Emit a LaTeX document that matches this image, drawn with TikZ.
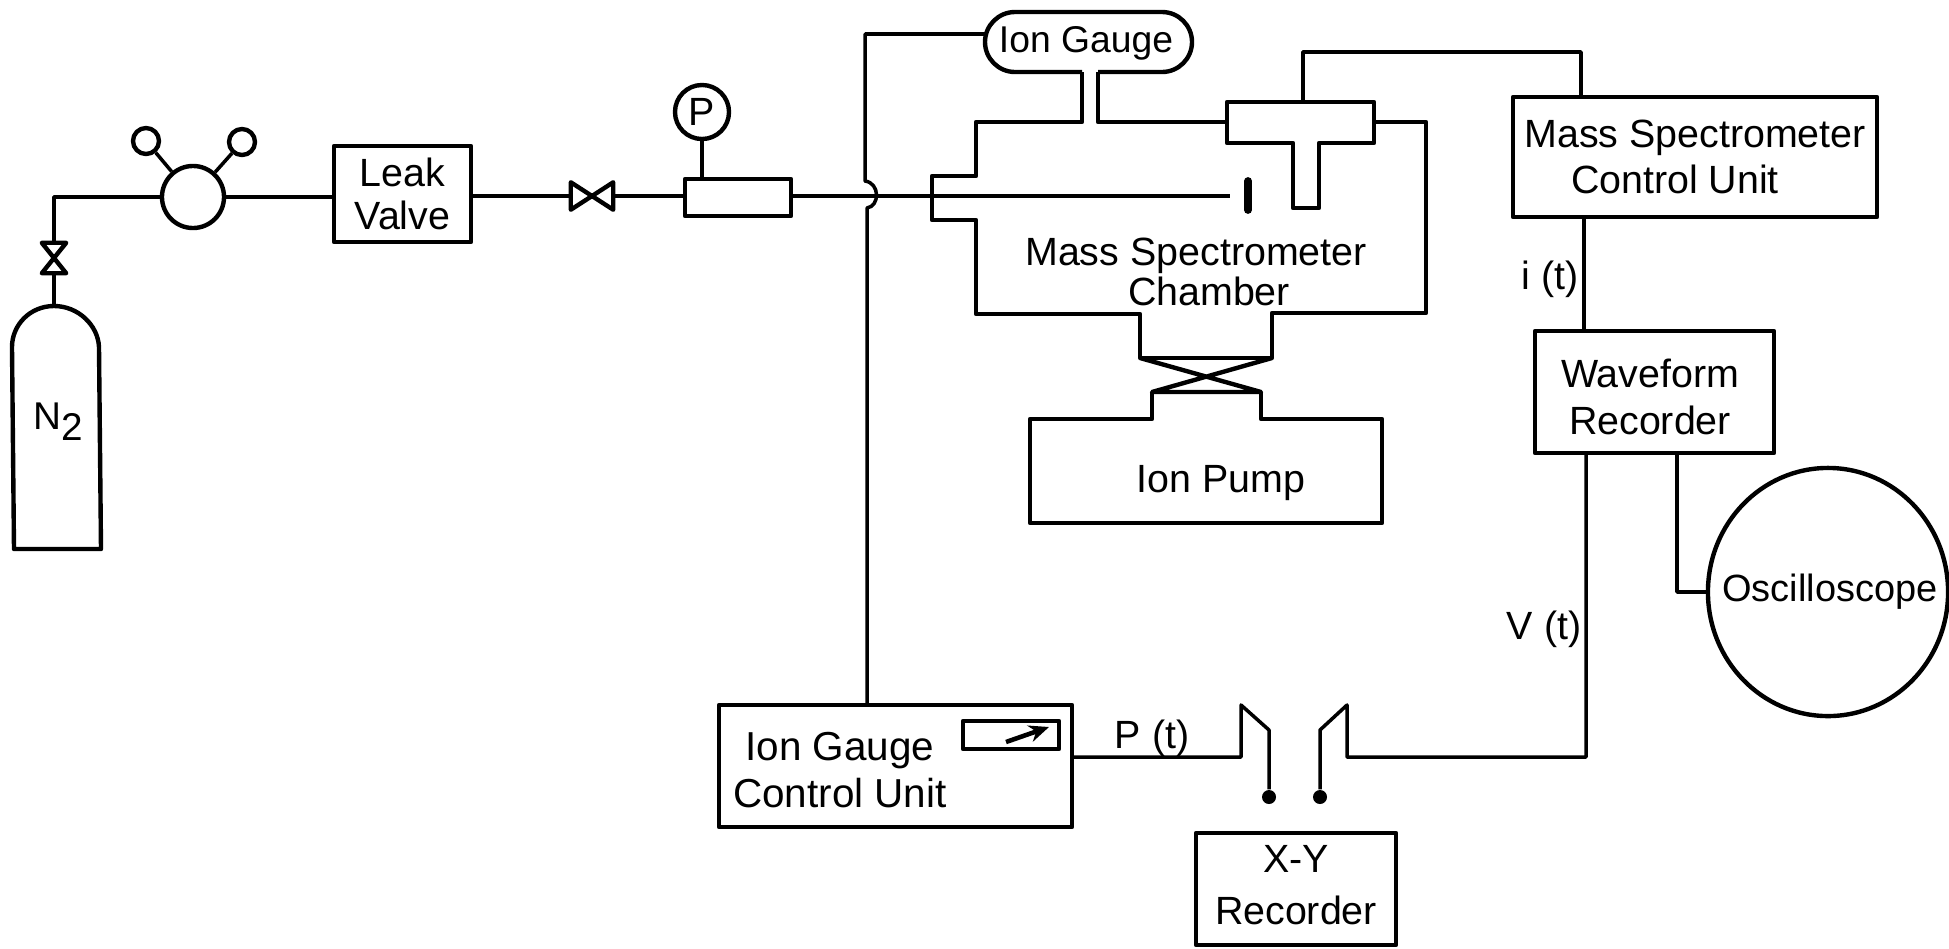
\documentclass[tikz,border=0pt]{standalone}
\usepackage{fontspec}
\setmainfont{Liberation Sans}
\usetikzlibrary{arrows.meta,shapes.geometric}
\tikzset{
  wire/.style={draw=black, line width=1pt, line join=round},
  wall/.style={draw=black, line width=1.25pt, line join=round},
  lab/.style={font=\fontsize{11.2}{13}\selectfont, align=center, inner sep=0pt},
  box/.style={wall, rectangle, inner sep=0pt, lab},
  ring/.style={wall, circle, inner sep=0pt, lab},
  spot/.style={circle, fill=black, inner sep=0pt, minimum size=0.14cm}
}
\begin{document}
\begin{tikzpicture}[x=0.01cm, y=-0.01cm]
  \useasboundingbox (0,0) rectangle (1949,948);

  % Cylinder
  \draw[wall] (14,549) -- (12,347) .. controls (12,325) and (30,306) .. (54,306)
    .. controls (78,306) and (98,325) .. (99,347) -- (101,549) -- cycle;
  \coordinate (cyltop) at (54,306);
  \node[lab, font=\fontsize{11}{13}\selectfont] (cyl) at (58,422) {N\raisebox{-0.55ex}{2}};

  % Gas line
  \node[inner sep=0pt, minimum width=0.23cm, minimum height=0.29cm] (vv) at (54,258) {};
  \node[ring, minimum size=0.62cm] (reg) at (193,197) {};
  \node[ring, minimum size=0.26cm] (bulba) at (146,141) {};
  \node[ring, minimum size=0.26cm] (bulbb) at (242,142) {};
  \node[box, minimum width=1.37cm, minimum height=0.96cm] (leak) at (402.5,194) {Leak\\[-0.6pt]Valve};
  \node[inner sep=0pt, minimum width=0.41cm, minimum height=0.26cm] (vh) at (592,196) {};
  \node[box, minimum width=1.06cm, minimum height=0.37cm] (pipe) at (738,197.5) {};
  \node[ring, minimum size=0.54cm] (pgauge) at (702,112) {P};
  \coordinate (inlet) at (1230,196);

  \draw[wall] (vv.north west) -- (vv.north east) -- (vv.south west) -- (vv.south east) -- cycle;
  \draw[wall] (vh.north west) -- (vh.south west) -- (vh.north east) -- (vh.south east) -- cycle;
  \draw[wire] (cyltop) -- (vv.south);
  \draw[wire] (vv.north) |- (reg.west);
  \draw[wire] (reg) -- (bulba);
  \draw[wire] (reg) -- (bulbb);
  \draw[wire] (reg.east) -- (leak.west |- reg.east);
  \draw[wire] (leak.east |- vh.west) -- (vh.west);
  \draw[wire] (vh.east) -- (pipe.west |- vh.east);
  \draw[wire] (pgauge) -- (pgauge |- pipe.north);
  \draw[wire] (pipe.east |- inlet) -- (inlet);
  \draw[line width=2.2pt, line cap=round] (1248,181) -- (1248,210);

  % Ion gauge
  \draw[wall, rounded corners=0.3cm] (1082,72) -- (985,72) -- (985,12) -- (1192,12) -- (1192,72) -- (1098,72);
  \node[lab, font=\fontsize{10.6}{13}\selectfont, minimum width=2.07cm, minimum height=0.6cm] (gauge) at (1086,43) {Ion Gauge};

  % Chamber and pump
  \draw[wall] (1082,72) -- (1082,122) -- (976,122) -- (976,176) -- (932,176) -- (932,220)
    -- (976,220) -- (976,314) -- (1140,314) -- (1140,358) -- (1272,358) -- (1272,313)
    -- (1426,313) -- (1426,122) -- (1374,122);
  \draw[wall] (1098,72) -- (1098,122) -- (1227,122);
  \draw[wall] (1293,143) -- (1227,143) -- (1227,102) -- (1374,102) -- (1374,143) -- (1319,143)
    -- (1319,208) -- (1293,208) -- cycle;
  \draw[wall] (1140,358) -- (1261,392) -- (1152,392) -- (1272,358);
  \draw[wall] (1152,392) -- (1152,419) -- (1030,419) -- (1030,523) -- (1382,523) -- (1382,419)
    -- (1261,419) -- (1261,392);
  \node[lab] (chamber) at (1196,272) {Mass Spectrometer\\[-1.6pt]\hspace*{0.26cm}Chamber};
  \node[lab] (pump) at (1221,483) {Ion Pump};

  % Control units
  \node[box, minimum width=3.64cm, minimum height=1.2cm] (msu) at (1695,157) {Mass Spectrometer\\[0.3pt]Control Unit\hspace*{0.4cm}};
  \node[box, minimum width=2.39cm, minimum height=1.22cm] (wave) at (1654.5,392) {};
  \node[lab] (wavetext) at (1650,397) {Waveform\\[0.3pt]Recorder};
  \node[wall, ellipse, inner sep=0pt, minimum width=2.4cm, minimum height=2.48cm] (scope) at (1828,592) {};
  \node[lab, font=\fontsize{10.8}{13}\selectfont] (scopetext) at (1830,592) {Oscilloscope};
  \node[box, minimum width=3.53cm, minimum height=1.22cm] (igu) at (895.5,766) {};
  \node[lab, font=\fontsize{11.5}{13}\selectfont] (igutext) at (840,770) {Ion Gauge\\[0.2pt]Control Unit};
  \node[wall, rectangle, minimum width=0.96cm, minimum height=0.28cm, inner sep=0pt] (meter) at (1011,735) {};
  \node[box, minimum width=2cm, minimum height=1.12cm] (xy) at (1296,889) {};
  \node[lab] (xytext) at (1296,885) {X-Y\\[1.8pt]Recorder};

  \coordinate (msin) at (1581,97);
  \coordinate (ttop) at (1303,102);
  \coordinate (tbend) at (1303,52);
  \coordinate (msout) at (1584,217);
  \coordinate (wavein) at (1584,331);
  \coordinate (waveout) at (1586,453);
  \coordinate (waveo) at (1677,453);
  \coordinate (gaugein) at (985,34);
  \coordinate (hopa) at (865,181);
  \coordinate (hopb) at (867,208);
  \coordinate (iguout) at (1072,757);

  % Pens of the recorder
  \node[spot] (pena) at (1269,797) {};
  \node[spot] (penb) at (1320,797) {};

  \draw[wire] (ttop) -- (tbend) -| (msin);
  \draw[wire] (msout) -- (wavein);
  \draw[wire] (waveo) |- (scope.west);
  \draw[wire] (gaugein) -| (hopa) .. controls (880,183) and (880,206) .. (hopb) -- (hopb |- igu.north);
  \draw[wire] (iguout) -- (1241,757) -- (1241,705) -- (1269,730) -- (pena);
  \draw[wire] (waveout) -- (1586,757) -- (1347,757) -- (1347,705) -- (1320,730) -- (penb);
  \draw[line width=1.3pt, -{Stealth[length=0.2cm, width=0.17cm]}] (1006,742) -- (1049,727);

  % Signals
  \node[lab] (sigi) at (1550,279) {i (t)};
  \node[lab] (sigv) at (1544,629) {V (t)};
  \node[lab] (sigp) at (1152,738) {P (t)};
\end{tikzpicture}
\end{document}
